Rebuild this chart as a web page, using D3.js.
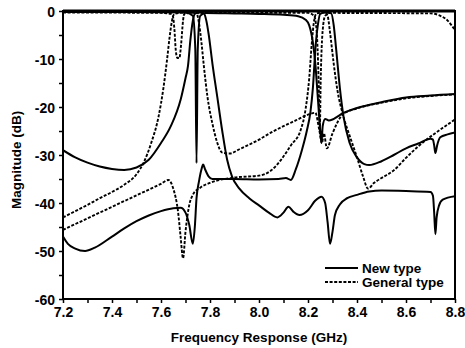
<!DOCTYPE html>
<html><head><meta charset="utf-8">
<script src="https://cdn.jsdelivr.net/npm/d3@7"></script>
<style>
html,body{margin:0;padding:0;background:#fff;}
text{font-family:"Liberation Sans",Arial,sans-serif;font-weight:bold;fill:#000;}
</style></head>
<body><svg id="c" width="465" height="348"></svg>
<script>
// ---- data (frequency GHz, magnitude dB) ----
const xTicks = [7.2, 7.4, 7.6, 7.8, 8.0, 8.2, 8.4, 8.6, 8.8];
const yTicks = [0, -10, -20, -30, -40, -50, -60];
const legendLabels = ["New type", "General type"];

const newCh1 = [[7.2,-29],[7.25,-30.5],[7.3,-31.6],[7.35,-32.4],[7.4,-32.9],[7.45,-33.1],[7.5,-32.6],[7.55,-31],[7.6,-27.5],[7.64,-24],[7.68,-18.5],[7.7,-14],[7.71,-11.5],[7.72,-6],[7.73,-2],[7.74,-0.5],[7.76,-0.3],[7.775,-0.5],[7.785,-2],[7.795,-5],[7.81,-11],[7.83,-18],[7.85,-25],[7.87,-31],[7.89,-34.5],[7.92,-37],[7.96,-39],[8.0,-40.5],[8.04,-42],[8.075,-43],[8.1,-42],[8.12,-40.8],[8.14,-41.8],[8.165,-42.5],[8.2,-41.5],[8.23,-39.5],[8.255,-38.7],[8.27,-40],[8.28,-44],[8.29,-48.5],[8.3,-46],[8.31,-42.5],[8.33,-40.3],[8.36,-39],[8.4,-38.3],[8.45,-37.6],[8.5,-37.4],[8.6,-37.5],[8.7,-37.7],[8.71,-38.5],[8.715,-42],[8.72,-46.5],[8.725,-43],[8.735,-40.5],[8.75,-39.3],[8.8,-38.6]];

const newCh2 = [[7.2,-47],[7.22,-48.5],[7.25,-49.5],[7.29,-50],[7.33,-49.3],[7.4,-47],[7.45,-45.3],[7.5,-43.8],[7.55,-42.6],[7.6,-41.7],[7.65,-41.1],[7.68,-41],[7.7,-42],[7.715,-44.5],[7.73,-48.5],[7.738,-45],[7.745,-39],[7.755,-35.5],[7.765,-33],[7.772,-32],[7.78,-33],[7.795,-34.5],[7.81,-35],[7.85,-35],[7.9,-35],[8.0,-35.1],[8.08,-35],[8.11,-34.8],[8.13,-35.2],[8.15,-33],[8.175,-29],[8.195,-25],[8.21,-21],[8.22,-16],[8.23,-8],[8.24,-3],[8.25,-0.6],[8.27,-0.3],[8.295,-0.5],[8.305,-3],[8.315,-8],[8.33,-16],[8.345,-22],[8.37,-27.5],[8.4,-30.5],[8.43,-31.9],[8.45,-32.1],[8.5,-31.3],[8.55,-30],[8.6,-28.6],[8.65,-27.6],[8.7,-26.6],[8.71,-26.8],[8.715,-28],[8.72,-29.6],[8.727,-28],[8.74,-26.3],[8.77,-25.7],[8.8,-25.3]];

const newS11 = [[7.2,-0.2],[7.5,-0.2],[7.7,-0.3],[7.73,-1],[7.74,-8],[7.745,-31.7],[7.75,-8],[7.76,-1],[7.78,-0.4],[7.9,-0.5],[8.0,-0.6],[8.1,-0.8],[8.16,-1.1],[8.19,-1.8],[8.205,-3],[8.215,-5],[8.23,-11],[8.24,-18],[8.25,-25],[8.255,-27.5],[8.26,-24],[8.27,-22.5],[8.285,-22.8],[8.3,-22.6],[8.32,-22],[8.343,-21.3],[8.4,-20.2],[8.5,-19],[8.6,-18],[8.7,-17.6],[8.8,-17.3]];

const genCh1 = [[7.2,-43],[7.25,-41.7],[7.3,-40.4],[7.35,-39],[7.4,-37.7],[7.45,-36.2],[7.5,-34],[7.53,-31.5],[7.56,-27.5],[7.59,-22],[7.61,-16],[7.625,-10],[7.635,-5.5],[7.645,-2],[7.655,-0.6],[7.7,-0.3],[7.745,-0.5],[7.755,-2.5],[7.765,-6.5],[7.775,-11.5],[7.79,-18],[7.81,-23.5],[7.83,-27.5],[7.85,-29.5],[7.88,-29.7],[7.92,-28.8],[8.0,-26.8],[8.05,-25.3],[8.1,-24],[8.15,-22.8],[8.2,-21.6],[8.23,-21.2],[8.245,-24.5],[8.257,-27.5],[8.265,-25.5],[8.277,-28.6],[8.3,-25.5],[8.343,-21.5],[8.4,-20.3],[8.5,-19.1],[8.6,-18.2],[8.7,-17.7],[8.8,-17.4]];

const genCh2 = [[7.2,-45.6],[7.3,-43.2],[7.4,-40.8],[7.5,-38.4],[7.6,-36],[7.63,-35.2],[7.65,-37],[7.67,-42],[7.68,-47],[7.69,-51.5],[7.7,-46],[7.715,-40.5],[7.73,-38.3],[7.76,-36.8],[7.8,-35.8],[7.9,-34.7],[8.0,-34.3],[8.05,-33.2],[8.09,-31],[8.13,-28],[8.17,-24.8],[8.19,-20.5],[8.205,-14],[8.215,-7],[8.225,-2],[8.235,-0.5],[8.27,-0.3],[8.28,-1],[8.29,-4.5],[8.305,-11],[8.32,-16.5],[8.343,-21.7],[8.37,-26],[8.4,-30.5],[8.425,-34.5],[8.445,-37],[8.47,-35.8],[8.5,-34.8],[8.55,-33.2],[8.6,-30.6],[8.65,-28.2],[8.71,-25.8],[8.76,-24],[8.8,-22.6]];

const genS11 = [[7.2,-0.3],[7.6,-0.4],[7.64,-0.6],[7.648,-1],[7.655,-4],[7.66,-8],[7.667,-9.8],[7.675,-9.8],[7.682,-7],[7.69,-2],[7.695,-0.6],[7.72,-0.4],[8.2,-0.4],[8.225,-1],[8.235,-4],[8.243,-14],[8.248,-25],[8.252,-14],[8.26,-4],[8.27,-1],[8.29,-0.4],[8.7,-0.5],[8.74,-1],[8.77,-2],[8.8,-4]];

// ---- chart ----
const svg = d3.select("#c");
const L = 63, R = 455, T = 11, B = 299;
const x = d3.scaleLinear().domain([7.2, 8.8]).range([L, R]);
const y = d3.scaleLinear().domain([-60, 0]).range([B, T]);

svg.append("clipPath").attr("id","clip").append("rect")
  .attr("x", L).attr("y", T-1).attr("width", R-L).attr("height", B-T+1);

const line = d3.line().x(d => x(d[0])).y(d => y(d[1])).curve(d3.curveMonotoneX);
const g = svg.append("g").attr("clip-path","url(#clip)");

const solid = [newCh1, newCh2, newS11];
const dashed = [genCh1, genCh2, genS11];
dashed.forEach(s => g.append("path").attr("d", line(s)).attr("fill","none")
  .attr("stroke","#000").attr("stroke-width",1.9).attr("stroke-dasharray","3,1.6"));
solid.forEach(s => g.append("path").attr("d", line(s)).attr("fill","none")
  .attr("stroke","#000").attr("stroke-width",2));

// axes
const xAxis = d3.axisBottom(x).tickValues(d3.range(7.2, 8.81, 0.1)).tickSize(4)
  .tickFormat(d => xTicks.some(t => Math.abs(t-d) < 1e-6) ? d3.format(".1f")(d) : "");
const gx = svg.append("g").attr("transform", `translate(0,${B})`).call(xAxis);
const yAxis = d3.axisLeft(y).tickValues(d3.range(-60, 0.1, 5)).tickSize(4)
  .tickFormat(d => yTicks.includes(d) ? String(d) : "");
const gy = svg.append("g").attr("transform", `translate(${L},0)`).call(yAxis);
[gx, gy].forEach(a => {
  a.select(".domain").remove();
  a.selectAll(".tick line").attr("stroke","#000").attr("stroke-width",1.5);
  a.selectAll(".tick text").style("font-size","14px").style("font-family","'Liberation Sans',Arial,sans-serif").style("font-weight","bold");
});
gx.selectAll(".tick text").attr("dy","0.9em").attr("y", 5);
gy.selectAll(".tick text").attr("x", -8).attr("dy","0.36em");

// frame
svg.append("rect").attr("x", L).attr("y", T).attr("width", R-L).attr("height", B-T)
  .attr("fill","none").attr("stroke","#000").attr("stroke-width",2);
svg.append("line").attr("x1",L).attr("x2",R).attr("y1",y(0)).attr("y2",y(0))
  .attr("stroke","#000").attr("stroke-width",3);

// titles
svg.append("text").attr("x", (L+R)/2).attr("y", 342).attr("text-anchor","middle")
  .style("font-size","13.5px").text("Frequency Response (GHz)");
svg.append("text").attr("transform","translate(21,160) rotate(-90)").attr("text-anchor","middle")
  .style("font-size","13.5px").text("Magnitude (dB)");

// legend
const lg = svg.append("g");
legendLabels.forEach((lab, i) => {
  const yy = 268 + i*14;
  lg.append("line").attr("x1",325).attr("x2",358).attr("y1",yy).attr("y2",yy)
    .attr("stroke","#000").attr("stroke-width", i ? 1.9 : 2)
    .attr("stroke-dasharray", i ? "3,1.6" : null);
  lg.append("text").attr("x",362).attr("y",yy).attr("dy","0.36em")
    .style("font-size","13.5px").text(lab);
});
</script></body></html>
